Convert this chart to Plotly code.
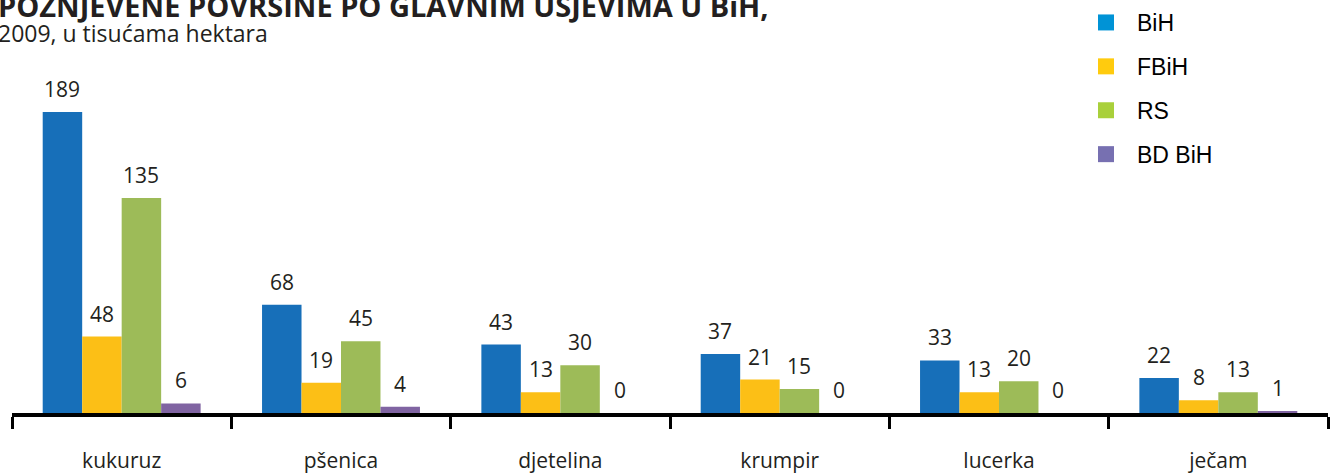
import plotly.graph_objects as go

# Harvested area by main crop, 2009, thousands of hectares
crops = ["kukuruz", "pšenica", "djetelina", "krumpir", "lucerka", "ječam"]
bih = [189, 68, 43, 37, 33, 22]
fbih = [48, 19, 13, 21, 13, 8]
rs = [135, 45, 30, 15, 20, 13]
bd_bih = [6, 4, 0, 0, 0, 1]

series_names = ["BiH", "FBiH", "RS", "BD BiH"]
series_values = [bih, fbih, rs, bd_bih]
bar_colors = ["#176fb9", "#fcbf16", "#9dbb58", "#8064a2"]
legend_colors = ["#0093d6", "#ffcb0e", "#a9d03b", "#7770b1"]

title_text = "POŽNJEVENE POVRŠINE PO GLAVNIM USJEVIMA U BiH,"
subtitle_text = "2009, u tisućama hektara"

W, H = 1330, 473
M_L, M_R, M_T, M_B = 12, 2, 60, 60
BARGAP = 0.28
Y_MAX = 221.6

plot_w = W - M_L - M_R
plot_h = H - M_T - M_B
bar_px = plot_w / len(crops) * (1 - BARGAP) / len(series_names)

text_color = "#231f20"
num_font = dict(family="Open Sans", size=21, color=text_color)

fig = go.Figure()

for name, vals, col in zip(series_names, series_values, bar_colors):
    fig.add_trace(go.Bar(
        x=crops, y=vals, name=name, marker=dict(color=col, line=dict(width=0)),
        showlegend=False, hoverinfo="x+y+name",
    ))

# legend entries drawn as square markers
for i, (name, col) in enumerate(zip(series_names, legend_colors)):
    fig.add_trace(go.Scatter(
        x=[None], y=[None], mode="markers", name=name,
        marker=dict(symbol="square", size=18, color=col),
        legendgroup=f"g{i}", showlegend=True,
    ))

annotations = []
n = len(series_names)
for k, vals in enumerate(series_values):
    for crop, v in zip(crops, vals):
        annotations.append(dict(
            x=crop, y=v, xref="x", yref="y", text=str(v), showarrow=False,
            xshift=(k - (n - 1) / 2) * bar_px, yshift=23, yanchor="middle",
            font=num_font,
        ))


def px_x(px):
    return (px - M_L) / plot_w


def px_y(py):
    return 1 + (M_T - py) / plot_h


annotations.append(dict(
    x=px_x(-4), y=px_y(5.0), xref="paper", yref="paper", xanchor="left", yanchor="middle",
    text=f"<b>{title_text}</b>", showarrow=False,
    font=dict(family="Open Sans", size=29, color=text_color),
))
annotations.append(dict(
    x=px_x(-4), y=px_y(33.0), xref="paper", yref="paper", xanchor="left", yanchor="middle",
    text=subtitle_text, showarrow=False,
    font=dict(family="Open Sans", size=23, color=text_color),
))

fig.update_layout(
    width=W, height=H,
    margin=dict(l=M_L, r=M_R, t=M_T, b=M_B, pad=0, autoexpand=False),
    paper_bgcolor="white", plot_bgcolor="white",
    barmode="group", bargap=BARGAP, bargroupgap=0,
    annotations=annotations,
    legend=dict(
        x=px_x(1075), y=px_y(1), xanchor="left", yanchor="top",
        font=dict(family="Liberation Sans", size=23, color="black"),
        itemwidth=52, tracegroupgap=11, bgcolor="rgba(0,0,0,0)",
    ),
    xaxis=dict(
        showline=True, linecolor="black", linewidth=4,
        ticks="outside", tickson="boundaries", ticklen=12, tickwidth=3, tickcolor="black",
        tickfont=dict(family="Open Sans", size=21, color=text_color),
        ticklabelstandoff=26, showgrid=False, zeroline=False, fixedrange=True,
        automargin=False,
    ),
    yaxis=dict(visible=False, range=[0, Y_MAX], fixedrange=True, automargin=False),
    showlegend=True,
)

fig.write_html("out.html")
